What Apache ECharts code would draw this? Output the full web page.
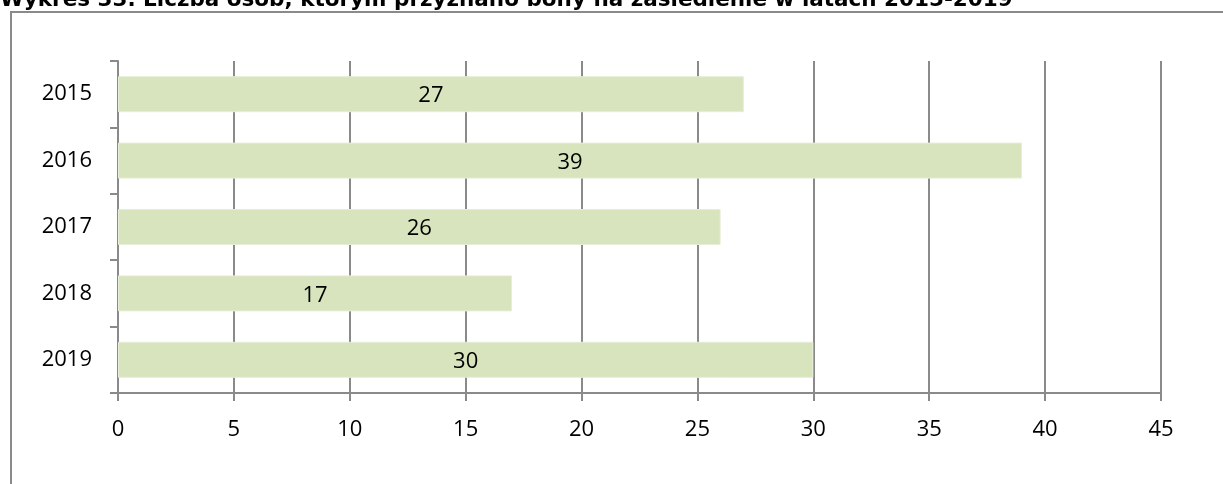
<!DOCTYPE html>
<html>
<head>
<meta charset="utf-8">
<script src="https://cdn.jsdelivr.net/npm/echarts@6/dist/echarts.min.js"></script>
<style>
  html, body { margin: 0; padding: 0; background: #fff; }
  #chart { width: 1223px; height: 484px; }
</style>
</head>
<body>
<div id="chart"></div>
<script>
// Persons granted settlement vouchers per year
const titleText = 'Wykres 33. Liczba osób, którym przyznano bony na zasiedlenie w latach 2015-2019';
const years = ['2015', '2016', '2017', '2018', '2019'];
const persons = [27, 39, 26, 17, 30];
const axisMin = 0;
const axisMax = 45;
const axisStep = 5;

const labelFont = '"Open Sans", "Noto Sans", sans-serif';
const gray = '#8a8a8a';

const chart = echarts.init(document.getElementById('chart'), null, { renderer: 'canvas' });

chart.setOption({
  animation: false,
  backgroundColor: '#ffffff',
  graphic: [
    {
      type: 'text',
      x: 0,
      y: -11,
      style: {
        text: titleText,
        font: 'bold 21.5px "DejaVu Sans", Verdana, sans-serif',
        fill: '#000'
      },
      z: 10
    },
    {
      type: 'rect',
      shape: { x: 11, y: 12, width: 1400, height: 800 },
      style: { fill: 'none', stroke: gray, lineWidth: 2 },
      silent: true
    }
  ],
  grid: { left: 118, right: 62, top: 61, bottom: 91, containLabel: false },
  xAxis: {
    type: 'value',
    min: axisMin,
    max: axisMax,
    interval: axisStep,
    axisLine: { show: true, lineStyle: { color: gray, width: 2 } },
    axisTick: { show: true, length: 8, lineStyle: { color: gray, width: 2 } },
    splitLine: { show: true, lineStyle: { color: gray, width: 2 } },
    axisLabel: { color: '#000', fontFamily: labelFont, fontSize: 22, margin: 26 }
  },
  yAxis: {
    type: 'category',
    data: years,
    inverse: true,
    axisLine: { show: true, lineStyle: { color: gray, width: 2 } },
    axisTick: { show: true, length: 8, lineStyle: { color: gray, width: 2 } },
    splitLine: { show: false },
    axisLabel: { color: '#000', fontFamily: labelFont, fontSize: 22, margin: 26 }
  },
  series: [
    {
      type: 'bar',
      data: persons,
      barWidth: 36,
      itemStyle: { color: '#d7e4bd', borderColor: '#e6eed6', borderWidth: 1 },
      label: {
        show: true,
        position: 'inside',
        offset: [0, 2],
        color: '#000',
        fontFamily: labelFont,
        fontSize: 22
      }
    }
  ]
});
</script>
</body>
</html>
